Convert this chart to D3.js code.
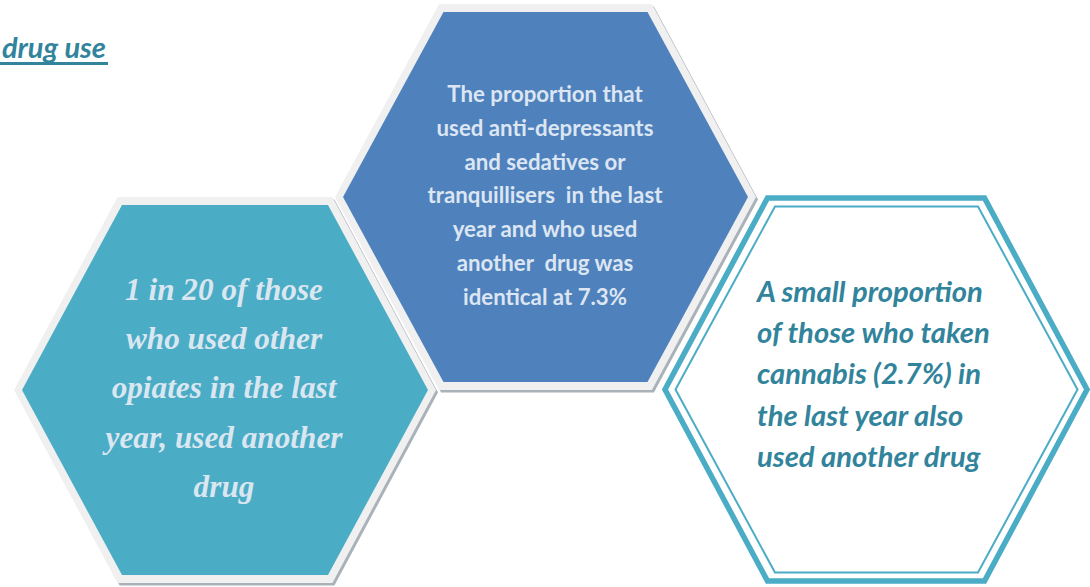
<!DOCTYPE html>
<html>
<head>
<meta charset="utf-8">
<script src="https://cdn.jsdelivr.net/npm/d3@7"></script>
<style>
  html, body { margin: 0; padding: 0; background: #ffffff; }
  svg { display: block; }
</style>
</head>
<body>
<svg id="chart" width="1090" height="587"></svg>
<script>
// ---- content ----
const titleText = "drug use";
const leftLines = ["1 in 20 of those", "who used other", "opiates in the last", "year, used another", "drug"];
const middleLines = ["The proportion that", "used anti-depressants", "and sedatives or", "tranquillisers\u00A0 in the last", "year and who used", "another\u00A0 drug was", "identical at 7.3%"];
const rightLines = ["A small proportion", "of those who taken", "cannabis (2.7%) in", "the last year also", "used another drug"];

const svg = d3.select("#chart");

function hexPoints(cx, cy, rx, half, ry) {
  return [
    [cx - half, cy - ry], [cx + half, cy - ry], [cx + rx, cy],
    [cx + half, cy + ry], [cx - half, cy + ry], [cx - rx, cy]
  ];
}
const line = d3.line().curve(d3.curveLinearClosed);

function fitFont(lines, family, weight, style, targetIdx, targetW) {
  const t = svg.append("text").attr("font-family", family).attr("font-weight", weight)
    .attr("font-style", style).attr("font-size", 100).text(lines[targetIdx]);
  const w = t.node().getComputedTextLength();
  t.remove();
  return 100 * targetW / w;
}

function solidHex(cx, cy, rx, half, ry, fill) {
  const g = svg.append("g");
  const b = 8;
  g.append("path").attr("d", line(hexPoints(cx + 2, cy + 2.5, rx + b, half + b * 0.55, ry + b)))
    .attr("fill", "#a9b1b9");
  g.append("path").attr("d", line(hexPoints(cx, cy, rx + b, half + b * 0.55, ry + b)))
    .attr("fill", "#f0f0f0");
  g.append("path").attr("d", line(hexPoints(cx, cy, rx, half, ry)))
    .attr("fill", fill);
  return g;
}

// ---- Left hexagon ----
solidHex(225, 390, 203, 103, 185, "#4bacc6");
// ---- Middle hexagon ----
solidHex(545.5, 197, 202.5, 102, 185, "#4f81bd");

// ---- Right hexagon (outline) ----
svg.append("path").attr("d", line(hexPoints(876, 389.5, 211, 108.5, 191.5)))
  .attr("fill", "#ffffff").attr("stroke", "#4bacc6").attr("stroke-width", 5.5)
  .attr("stroke-linejoin", "miter");
svg.append("path").attr("d", line(hexPoints(876.5, 389.5, 201, 101.5, 183)))
  .attr("fill", "none").attr("stroke", "#4bacc6").attr("stroke-width", 2)
  .attr("stroke-linejoin", "miter");

// ---- Title ----
const titleFam = "Lato, 'Open Sans', sans-serif";
const title = svg.append("text").attr("x", 106).attr("y", 58).attr("text-anchor", "end")
  .attr("font-family", titleFam).attr("font-weight", 700).attr("font-style", "italic")
  .attr("font-size", 29).attr("fill", "#31849b").text(titleText);
const tw = title.node().getComputedTextLength();
svg.append("rect").attr("x", 106 - tw - 4).attr("y", 62).attr("width", tw + 6).attr("height", 3)
  .attr("fill", "#31849b");

// ---- Middle text ----
const midFam = "Lato, 'Open Sans', sans-serif";
const midSize = fitFont(middleLines, midFam, 700, "normal", 1, 217);
svg.append("g").selectAll("text").data(middleLines).join("text")
  .attr("x", 545).attr("y", (d, i) => 102 + i * 33.8)
  .attr("text-anchor", "middle").attr("font-family", midFam).attr("font-weight", 700)
  .attr("font-size", midSize).attr("fill", "#dce6f2").text(d => d);

// ---- Left text ----
const leftFam = "'Liberation Serif', 'DejaVu Serif', serif";
const leftSize = fitFont(leftLines, leftFam, 700, "italic", 3, 237);
svg.append("g").selectAll("text").data(leftLines).join("text")
  .attr("x", 224).attr("y", (d, i) => 300 + i * 49.2)
  .attr("text-anchor", "middle").attr("font-family", leftFam).attr("font-weight", 700)
  .attr("font-style", "italic").attr("font-size", leftSize).attr("fill", "#dae6f0").text(d => d);

// ---- Right text ----
const rightFam = "Lato, 'Open Sans', sans-serif";
const rightSize = fitFont(rightLines, rightFam, 700, "italic", 1, 233);
svg.append("g").selectAll("text").data(rightLines).join("text")
  .attr("x", 757).attr("y", (d, i) => 302 + i * 41.2)
  .attr("font-family", rightFam).attr("font-weight", 700).attr("font-style", "italic")
  .attr("font-size", rightSize).attr("fill", "#31849b").text(d => d);
</script>
</body>
</html>
